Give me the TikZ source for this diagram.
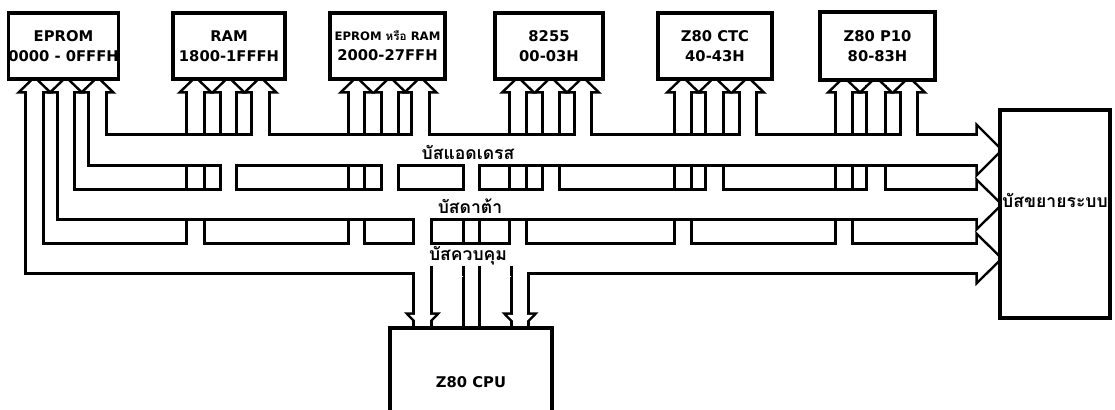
\documentclass[tikz,border=0pt]{standalone}
\usepackage{fontspec}
\setmainfont{DejaVu Sans}
\newfontfamily\thaifont[Script=Thai]{Loma}
\usetikzlibrary{positioning}
\tikzset{
  devbox/.style   = {rectangle, draw, line width=2.2pt, fill=white, inner sep=0pt, align=center, font=\bfseries\fontsize{10.5}{14}\selectfont},
  buslabel/.style = {font=\thaifont\bfseries\fontsize{12.5}{14}\selectfont, inner sep=1pt},
  busedge/.style  = {line width=3.6pt, line join=miter},
  busclose/.style = {line width=1.8pt},
}

\begin{document}
\begin{tikzpicture}[x=0.25mm, y=-0.25mm]
    \useasboundingbox (0,0) rectangle (1115,410);

    % bus channels: left x / top y / bottom y  (address, data, control)
    \def\chanlist{90/136/164, 59/191/218, 27/245/272}
    % device branches: left x / right x / end y
    \def\devlist{27/42/250, 59/73/196, 90/105/141,
                 188/203/250, 222/235/196, 253/268/141,
                 350/363/250, 383/397/196, 413/428/141,
                 511/525/250, 544/558/196, 576/590/141,
                 676/690/250, 707/722/196, 741/755/141,
                 837/851/250, 868/884/196, 902/916/141}
    % cpu branches: left x / right x / end y
    \def\cpulist{415/430/205, 465/478/150, 513/527/266}

    % first pass: outlines
    \foreach \xa/\ya/\yb in \chanlist {
      \draw[busedge] (\xa,\ya) rectangle (980,\yb);
      \draw[busedge] (978,\ya-8) -- (1000,{(\ya+\yb)/2}) -- (978,\yb+8) -- cycle;
    }
    \foreach \xa/\xb/\yb in \devlist {
      \draw[busedge] (\xa,88) rectangle (\xb,\yb);
      \draw[busedge] ({(\xa+\xb)/2-12.5},91) -- ({(\xa+\xb)/2},79) -- ({(\xa+\xb)/2+12.5},91) -- cycle;
    }
    \foreach \xa/\xb/\yb in \cpulist {
      \draw[busedge] (\xa,330) rectangle (\xb,\yb);
    }
    \draw[busedge] (410,315) -- (422.5,328) -- (435,315) -- cycle;
    \draw[busedge] (507.5,315) -- (520,328) -- (532.5,315) -- cycle;

    % second pass: white insides
    \foreach \xa/\ya/\yb in \chanlist {
      \fill[white] (\xa,\ya) rectangle (980,\yb);
      \fill[white] (978,\ya-8) -- (1000,{(\ya+\yb)/2}) -- (978,\yb+8) -- cycle;
    }
    \foreach \xa/\xb/\yb in \devlist {
      \fill[white] (\xa,88) rectangle (\xb,\yb);
      \fill[white] ({(\xa+\xb)/2-12.5},91) -- ({(\xa+\xb)/2},79) -- ({(\xa+\xb)/2+12.5},91) -- cycle;
    }
    \foreach \xa/\xb/\yb in \cpulist {
      \fill[white] (\xa,330) rectangle (\xb,\yb);
    }
    \fill[white] (410,315) -- (422.5,328) -- (435,315) -- cycle;
    \fill[white] (507.5,315) -- (520,328) -- (532.5,315) -- cycle;

    % crossings: branch cut by the bus it passes
    \foreach \xa/\xb in {188/203, 350/363, 511/525, 676/690, 837/851} {
      \foreach \y in {134.5,165.5,189.5,219.5}
        \draw[busclose] (\xa,\y) -- (\xb,\y);
    }
    \foreach \xa/\xb in {222/235, 383/397, 544/558, 707/722, 868/884}
      \draw[busclose] (\xa,134.5) -- (\xb,134.5);
    \foreach \xa/\xb in {544/558, 707/722, 868/884}
      \draw[busclose] (\xa,165.5) -- (\xb,165.5);
    \draw[busclose] (465,219.5) -- (478,219.5);
    \draw[busclose] (465,243.5) -- (478,243.5);

    % cpu mouth into the control bus
    \fill[white] (432.5,268) rectangle (462.5,277);
    \fill[white] (480.5,268) rectangle (510.5,277);
    \foreach \x in {431.3, 463.7, 479.3, 511.7}
      \draw[busclose] (\x,266) -- (\x,276);

    % bus names
    \node[buslabel] (addrname) at (468,152) {บัสแอดเดรส};
    \node[buslabel] (dataname) at (470,206) {บัสดาต้า};
    \node[buslabel] (ctrlname) at (468,256) {บัสควบคุม};

    % devices
    \node[devbox, minimum width=27.25mm, minimum height=16.5mm] (eprom) at (63.5,46) {EPROM\\0000 - 0FFFH};
    \node[devbox, minimum width=28mm, minimum height=16.5mm] (ram) at (229,46) {RAM\\1800-1FFFH};
    \node[devbox, minimum width=28.75mm, minimum height=16.5mm] (epromram) at (387.5,46)
      {{\fontsize{8.3}{10}\selectfont EPROM {\thaifont หรือ} RAM}\\2000-27FFH};
    \node[devbox, minimum width=27mm, minimum height=16.5mm] (ppi) at (549,46) {8255\\00-03H};
    \node[devbox, minimum width=28.5mm, minimum height=16.5mm] (ctc) at (715,46) {Z80 CTC\\40-43H};
    \node[devbox, minimum width=28.75mm, minimum height=17mm] (pio) at (877.5,46) {Z80 P10\\80-83H};
    \node[devbox, minimum width=40.5mm, minimum height=27mm] (cpu) at (471,382) {Z80 CPU};

    % expansion bus
    \node[devbox, minimum width=27.5mm, minimum height=52mm] (sysbus) at (1055,214) {};
    \node[buslabel] (sysbusname) at (1055,200) {บัสขยายระบบ};
\end{tikzpicture}
\end{document}
